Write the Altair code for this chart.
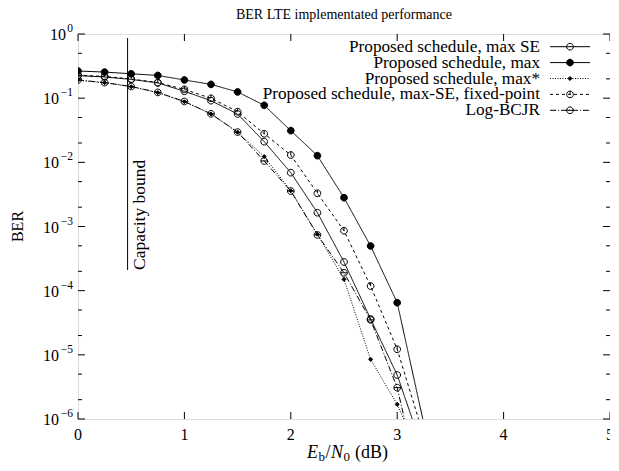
import altair as alt
import pandas as pd

# ---------------- data ----------------
x_vals = [0, 0.25, 0.5, 0.75, 1.0, 1.25, 1.5, 1.75, 2.0, 2.25, 2.5, 2.75, 3.0, 3.25]

series_names = [
    "Proposed schedule, max SE",
    "Proposed schedule, max",
    "Proposed schedule, max*",
    "Proposed schedule, max-SE, fixed-point",
    "Log-BCJR",
]

ber_max_se = [0.225, 0.214, 0.196, 0.173, 0.128, 0.0914, 0.0567, 0.021, 0.0069, 0.00164, 2.8e-4, 3.62e-5, 4.85e-6, 3e-7]
ber_max = [0.265, 0.255, 0.240, 0.226, 0.192, 0.164, 0.125, 0.0774, 0.0312, 0.0127, 0.00281, 4.97e-4, 6.5e-5, 8.5e-7]
ber_max_star = [0.190, 0.174, 0.151, 0.122, 0.088, 0.0567, 0.0294, 0.0123, 0.0036, 7.6e-4, 1.5e-4, 8.5e-6, 1.69e-6, 2e-7]
ber_fixed = [0.228, 0.218, 0.199, 0.175, 0.137, 0.0995, 0.0615, 0.0279, 0.0130, 0.00329, 8.6e-4, 1.18e-4, 1.22e-5, 5.4e-7]
ber_bcjr = [0.192, 0.175, 0.152, 0.123, 0.089, 0.057, 0.0296, 0.0105, 0.00357, 7.4e-4, 1.9e-4, 3.5e-5, 3.08e-6, 5e-8]

capacity_x = [0.466]
capacity_top = [0.866]
capacity_bottom = [2.1e-4]
capacity_label = ["Capacity bound"]

y_major = [1, 1e-1, 1e-2, 1e-3, 1e-4, 1e-5, 1e-6]
y_base = ["10"] * 7
y_exp = ["0", "−1", "−2", "−3", "−4", "−5", "−6"]
y_minor = [5e-1, 2e-1, 5e-2, 2e-2, 5e-3, 2e-3, 5e-4, 2e-4, 5e-5, 2e-5, 5e-6, 2e-6]
x_major = [0, 1, 2, 3, 4, 5]
x_labels = ["0", "1", "2", "3", "4", "5"]

title_text = "BER LTE implementated performance"
y_title = "BER"

# ---------------- styling ----------------
FONT = "Liberation Serif"
W, H = 532, 385

circle = "M-1,0A1,1,0,1,1,1,0A1,1,0,1,1,-1,0Z"
diamond = "M0,-0.6L0.6,0L0,0.6L-0.6,0Z"
shape_range = [circle, circle, diamond, circle + "M0,-1L0,0", circle + "M-1,0L1,0"]
dash_range = [[1, 0], [1, 0], [1, 1.5], [3, 3], [6, 2, 1, 2]]
fill_range = ["transparent", "black", "black", "transparent", "transparent"]

rows = []
for name, vals in zip(series_names, [ber_max_se, ber_max, ber_max_star, ber_fixed, ber_bcjr]):
    for xv, b in zip(x_vals, vals):
        rows.append({"series": name, "x": xv, "ber": b})
df = pd.DataFrame(rows)

x_scale = alt.Scale(domain=[0, 5], nice=False, zero=False)
y_scale = alt.Scale(type="log", domain=[1e-6, 1], nice=False)

dash_enc = alt.StrokeDash("series:N", scale=alt.Scale(domain=series_names, range=dash_range), legend=None)
shape_enc = alt.Shape("series:N", scale=alt.Scale(domain=series_names, range=shape_range), legend=None)
fill_enc = alt.Fill("series:N", scale=alt.Scale(domain=series_names, range=fill_range), legend=None)

base = alt.Chart(df)

lines = base.mark_line(color="black", strokeWidth=1, clip=True).encode(
    x=alt.X("x:Q", scale=x_scale, axis=None),
    y=alt.Y("ber:Q", scale=y_scale, axis=None),
    strokeDash=dash_enc,
    detail="series:N",
    order="x:Q",
)

points = base.mark_point(filled=True, stroke="black", strokeWidth=1, opacity=1, size=45, clip=True).encode(
    x=alt.X("x:Q", scale=x_scale, axis=None),
    y=alt.Y("ber:Q", scale=y_scale, axis=None),
    shape=shape_enc,
    fill=fill_enc,
)

# ticks (inward, mirrored)
ymaj_df = pd.DataFrame({"v": y_major, "base": y_base, "ex": y_exp})
ymin_df = pd.DataFrame({"v": y_minor})
xmaj_df = pd.DataFrame({"v": x_major, "lab": x_labels})

def yticks(d, L):
    left = alt.Chart(d).mark_rule(color="black", strokeWidth=1).encode(
        y=alt.Y("v:Q", scale=y_scale, axis=None), x=alt.value(0), x2=alt.value(L))
    right = alt.Chart(d).mark_rule(color="black", strokeWidth=1).encode(
        y=alt.Y("v:Q", scale=y_scale, axis=None), x=alt.value(W), x2=alt.value(W - L))
    return left + right

xt_bottom = alt.Chart(xmaj_df).mark_rule(color="black", strokeWidth=1).encode(
    x=alt.X("v:Q", scale=x_scale, axis=None), y=alt.value(H), y2=alt.value(H - 7))
xt_top = alt.Chart(xmaj_df).mark_rule(color="black", strokeWidth=1).encode(
    x=alt.X("v:Q", scale=x_scale, axis=None), y=alt.value(0), y2=alt.value(7))

# tick labels: y as 10^{exp}
ylab_base = alt.Chart(ymaj_df).transform_calculate(
    bx="length(datum.ex) > 1 ? -19 : -12"
).mark_text(align="right", baseline="middle", font=FONT, fontSize=16, color="black", dy=1).encode(
    y=alt.Y("v:Q", scale=y_scale, axis=None),
    x=alt.X("bx:Q", scale=None, axis=None),
    text="base:N")
ylab_exp = alt.Chart(ymaj_df).mark_text(align="right", baseline="middle", font=FONT, fontSize=11.5,
                                        color="black", dy=-5).encode(
    y=alt.Y("v:Q", scale=y_scale, axis=None), x=alt.value(-5), text="ex:N")
xlab = alt.Chart(xmaj_df).mark_text(align="center", baseline="middle", font=FONT, fontSize=16,
                                    color="black").encode(
    x=alt.X("v:Q", scale=x_scale, axis=None), y=alt.value(H + 16), text="lab:N")

# capacity bound
cap_df = pd.DataFrame({"cx": capacity_x, "top": capacity_top, "bot": capacity_bottom, "lab": capacity_label})
cap_line = alt.Chart(cap_df).mark_rule(color="black", strokeWidth=1).encode(
    x=alt.X("cx:Q", scale=x_scale, axis=None),
    y=alt.Y("top:Q", scale=y_scale, axis=None),
    y2="bot:Q",
)
cap_text = alt.Chart(cap_df).mark_text(angle=270, align="left", baseline="top", font=FONT,
                                       fontSize=17.5, color="black", dy=3).encode(
    x=alt.X("cx:Q", scale=x_scale, axis=None),
    y=alt.Y("bot:Q", scale=y_scale, axis=None),
    text="lab:N",
)

# legend (manual, top-right inside)
leg_df = pd.DataFrame({"series": series_names, "row": list(range(len(series_names)))})
leg = alt.Chart(leg_df).transform_calculate(
    ly="12.7 + datum.row * 15.9",
    tx=str(W - 70),
    lx1=str(W - 60),
    lx2=str(W - 20),
    mx=str(W - 40),
)
leg_text = leg.mark_text(align="right", baseline="middle", font=FONT, fontSize=17.2, color="black").encode(
    x=alt.X("tx:Q", scale=None, axis=None),
    y=alt.Y("ly:Q", scale=None, axis=None),
    text="series:N",
)
leg_line = leg.mark_rule(color="black", strokeWidth=1).encode(
    x=alt.X("lx1:Q", scale=None, axis=None),
    x2="lx2:Q",
    y=alt.Y("ly:Q", scale=None, axis=None),
    strokeDash=dash_enc,
)
leg_pts = leg.mark_point(filled=True, stroke="black", strokeWidth=1, opacity=1, size=45).encode(
    x=alt.X("mx:Q", scale=None, axis=None),
    y=alt.Y("ly:Q", scale=None, axis=None),
    shape=shape_enc,
    fill=fill_enc,
)

# titles
title_mark = alt.Chart(pd.DataFrame({"t": [title_text]})).mark_text(
    font=FONT, fontSize=14, color="black", baseline="middle").encode(
    x=alt.value(W / 2), y=alt.value(-19), text="t:N")
ytitle = alt.Chart(pd.DataFrame({"t": [y_title]})).mark_text(
    font=FONT, fontSize=16, color="black", angle=270, baseline="middle").encode(
    x=alt.value(-60), y=alt.value(H / 2), text="t:N")

# x-axis title "E_b/N_0 (dB)" composed of pieces (text, style, size, advance, dy)
pieces = [("E", "italic", 18, 11.5, 0), ("b", "normal", 13, 7.0, 4), ("/", "normal", 18, 5.5, 0),
          ("N", "italic", 18, 12.5, 0), ("0", "normal", 13, 11.5, 4), ("(dB)", "normal", 18, 34.0, 0)]
total = sum(p[3] for p in pieces)
xt_layers = []
cur = W / 2 - total / 2 + 4
for txt, style, fs, wdt, dy in pieces:
    xt_layers.append(
        alt.Chart(pd.DataFrame({"t": [txt]})).mark_text(
            font=FONT, fontSize=fs, fontStyle=style, color="black", align="left",
            baseline="middle", dy=dy).encode(x=alt.value(cur), y=alt.value(H + 34), text="t:N"))
    cur += wdt

chart = alt.layer(
    lines, points, yticks(ymaj_df, 7), yticks(ymin_df, 4), xt_bottom, xt_top,
    ylab_base, ylab_exp, xlab,
    cap_line, cap_text, leg_line, leg_pts, leg_text, title_mark, ytitle, *xt_layers
).properties(
    width=W, height=H,
    autosize=alt.AutoSizeParams(type="none"),
    padding={"left": 70, "top": 26, "right": 0, "bottom": 44},
).configure_view(stroke="black", strokeWidth=1.3).configure(background="white")

chart.save("out.html", embed_options={"renderer": "svg", "actions": False})
